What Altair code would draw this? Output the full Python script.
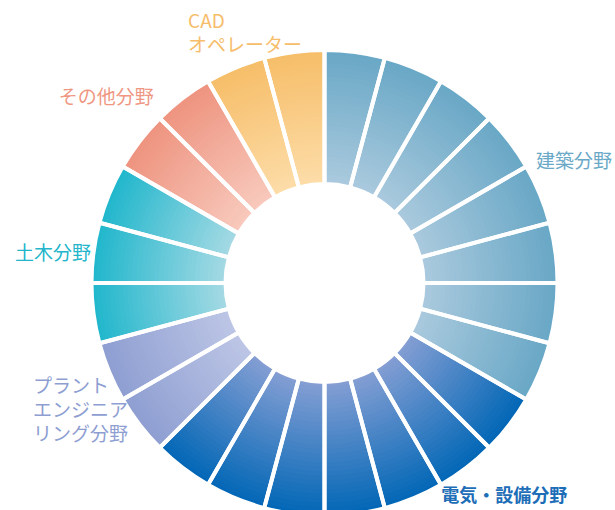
import math
import altair as alt
import pandas as pd

# ---------------- data ----------------
categories = ["建築分野", "電気・設備分野", "プラントエンジニアリング分野", "土木分野", "その他分野", "CADオペレーター"]
segment_counts = [8, 7, 2, 3, 2, 2]
label_texts = ["建築分野", "電気・設備分野", "プラント\nエンジニア\nリング分野", "土木分野", "その他分野", "CAD\nオペレーター"]

# ---------------- styles ----------------
inner_colors = ["#abcade", "#869fd4", "#bdc6e5", "#a6dae4", "#f8cabd", "#fddda9"]
outer_colors = ["#68a7c6", "#0066b5", "#8e9ed2", "#1fb6cc", "#ee937f", "#f6bd68"]
label_colors = ["#6aa8c7", "#1d6db7", "#8e9ed2", "#22b5cb", "#ef9783", "#f6bd6b"]
label_theta = [60.2, 151.4, 250.4, 277.1, 317.3, 332.4]   # degrees, clockwise from top (first line)
label_radius = [243.7, 243.7, 309.5, 235.3, 251.6, 294.5]  # px from centre
label_align = ["left", "left", "left", "right", "right", "left"]
label_weight = ["normal", "bold", "normal", "normal", "normal", "normal"]

N_BANDS = 30
TOTAL = sum(segment_counts)
FONT = "Noto Sans CJK JP"


def mix(c1, c2, t):
    a = [int(c1[i:i + 2], 16) for i in (1, 3, 5)]
    b = [int(c2[i:i + 2], 16) for i in (1, 3, 5)]
    return "#" + "".join(f"{round(a[k] + (b[k] - a[k]) * t):02x}" for k in range(3))


band_rows, seg_rows = [], []
s = 0
for ci, (cat, n) in enumerate(zip(categories, segment_counts)):
    for _ in range(n):
        seg_rows.append({"cat": cat, "s0": s, "s1": s + 1, "r0": 0, "r1": N_BANDS})
        for b in range(N_BANDS):
            band_rows.append({
                "cat": cat, "s0": s, "s1": s + 1,
                "r0": b, "r1": b + 1 + (0.4 if b < N_BANDS - 1 else 0),
                "col": mix(inner_colors[ci], outer_colors[ci], (b + 0.5) / N_BANDS),
            })
        s += 1

bands = pd.DataFrame(band_rows)
segs = pd.DataFrame(seg_rows)

theta_scale = alt.Scale(domain=[0, TOTAL], range=[0, 2 * math.pi])
radius_scale = alt.Scale(type="linear", domain=[0, N_BANDS], range=[99, 233], zero=False)

arcs = alt.Chart(bands).mark_arc().encode(
    theta=alt.Theta("s0:Q", scale=theta_scale, stack=None),
    theta2="s1:Q",
    radius=alt.Radius("r0:Q", scale=radius_scale),
    radius2="r1:Q",
    color=alt.Color("col:N", scale=None),
)

separators = alt.Chart(segs).mark_arc(
    fillOpacity=0, stroke="white", strokeWidth=4, strokeJoin="miter"
).encode(
    theta=alt.Theta("s0:Q", scale=theta_scale, stack=None),
    theta2="s1:Q",
    radius=alt.Radius("r0:Q", scale=radius_scale),
    radius2="r1:Q",
)

labels = pd.DataFrame({
    "text": label_texts,
    "theta": label_theta,
    "radius": label_radius,
    "align": label_align,
    "weight": label_weight,
    "col": label_colors,
})

text_layers = []
for align in ["left", "right"]:
    for weight in ["normal", "bold"]:
        sub = labels[(labels["align"] == align) & (labels["weight"] == weight)]
        if len(sub) == 0:
            continue
        text_layers.append(
            alt.Chart(sub).mark_text(
                align=align, baseline="middle", font=FONT,
                fontSize=18 if weight == "bold" else 19,
                fontWeight=weight, lineBreak="\n", lineHeight=24,
            ).encode(
                theta=alt.Theta("theta:Q", scale=alt.Scale(domain=[0, 360], range=[0, 2 * math.pi]), stack=None),
                radius=alt.Radius("radius:Q", scale=alt.Scale(type="linear", domain=[0, 400], range=[0, 400])),
                text="text:N",
                color=alt.Color("col:N", scale=None),
            )
        )

chart = alt.layer(arcs, separators, *text_layers).resolve_scale(
    theta="independent", radius="independent"
).properties(
    width=500, height=454,
    padding={"left": 74.5, "top": 56, "right": 40.5, "bottom": 0},
    autosize=alt.AutoSizeParams(type="none"),
    background="white",
).configure_view(stroke=None)

chart.save("out.html", embed_options={"renderer": "svg", "actions": False})
